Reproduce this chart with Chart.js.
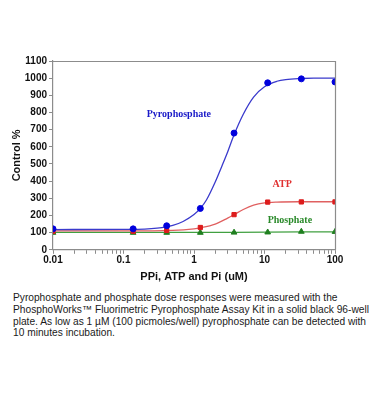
<!DOCTYPE html>
<html>
<head>
<meta charset="utf-8">
<script src="https://cdn.jsdelivr.net/npm/chart.js@4"></script>
<style>
  body { margin: 0; background: #fff; width: 370px; height: 419px; overflow: hidden; }
  #wrap { position: absolute; left: 0; top: 0; width: 370px; height: 290px; }
  #caption { position: absolute; left: 13px; top: 292px; width: 360px;
    font-family: "Liberation Sans", Arial, sans-serif; font-size: 10.2px; line-height: 11.8px; color: #1a1a1a; white-space: nowrap; }
</style>
</head>
<body>
<div id="wrap"><canvas id="c" width="370" height="290"></canvas></div>
<div id="caption">Pyrophosphate and phosphate dose responses were measured with the<br>PhosphoWorks™ Fluorimetric Pyrophosphate Assay Kit in a solid black 96-well<br>plate. As low as 1 µM (100 picmoles/well) pyrophosphate can be detected with<br>10 minutes incubation.</div>
<script>
// measured doses (uM)
var doses = [0.01, 0.137, 0.41, 1.23, 3.7, 11.1, 33.3, 100];
var ppiPoints = [122, 122, 140, 241, 680, 973, 996, 978];
var atpPoints = [108, 108, 113, 130, 205, 278, 279, 279];
var piPoints = [100, 100, 100, 100, 101, 102, 106, 105];

// fitted curves
var ppiFitX = [0.01, 0.1, 0.2, 0.3, 0.4, 0.5, 0.7, 1.0, 1.23, 1.5, 2.0, 2.5, 3.0, 3.7, 5, 7, 10, 15, 20, 33, 50, 100];
var ppiFitY = [118, 119, 121, 126, 133, 142, 165, 205, 241, 290, 395, 490, 570, 670, 790, 890, 950, 982, 992, 998, 1000, 1000];
var atpFitX = [0.01, 0.1, 0.5, 1, 1.23, 2, 3, 3.7, 5, 7, 10, 15, 30, 100];
var atpFitY = [110, 110, 113, 122, 128, 150, 185, 205, 235, 260, 273, 278, 280, 280];
var piFitX = [0.01, 1.23, 3.7, 11.1, 33.3, 100];
var piFitY = [101, 101, 102, 103, 105, 105];

var decades = [0.01, 0.1, 1, 10, 100];
var minorSteps = [2, 3, 4, 5, 6, 7, 8, 9];

var seriesLabels = [
    { text: "Pyrophosphate", x: 0.61, y: 790, color: "#1a1ac8" },
    { text: "ATP", x: 17.8, y: 380, color: "#e03030" },
    { text: "Phosphate", x: 22.9, y: 170, color: "#2a8a2a" }
];

function pairs(xs, ys) {
    var out = [];
    for (var i = 0; i < xs.length; i++) out.push({ x: xs[i], y: ys[i] });
    return out;
}

var frame = {
    id: "frame",
    afterDraw: function (chart) {
        var ctx = chart.ctx, a = chart.chartArea;
        ctx.save();
        ctx.strokeStyle = "#8c8c8c";
        ctx.lineWidth = 1.2;
        ctx.beginPath();
        ctx.moveTo(a.left, a.top + 0.5);
        ctx.lineTo(a.right + 0.5, a.top + 0.5);
        ctx.lineTo(a.right + 0.5, a.bottom);
        ctx.stroke();
        ctx.font = "bold 10px 'Liberation Serif', 'Times New Roman', serif";
        ctx.textAlign = "center";
        ctx.textBaseline = "middle";
        for (var i = 0; i < seriesLabels.length; i++) {
            var l = seriesLabels[i];
            ctx.fillStyle = l.color;
            ctx.fillText(l.text, chart.scales.x.getPixelForValue(l.x), chart.scales.y.getPixelForValue(l.y));
        }
        ctx.restore();
    }
};

var tickFont = { family: "'Liberation Sans', Arial, sans-serif", size: 10, weight: "bold" };

new Chart(document.getElementById("c"), {
    type: "line",
    data: {
        datasets: [
            { data: pairs(doses, ppiPoints), showLine: false, pointStyle: "circle", pointRadius: 3,
              backgroundColor: "#0000dd", borderColor: "#0000dd" },
            { data: pairs(doses, atpPoints), showLine: false, pointStyle: "rect", pointRadius: 3,
              backgroundColor: "#dd1c1c", borderColor: "#dd1c1c" },
            { data: pairs(doses, piPoints), showLine: false, pointStyle: "triangle", pointRadius: 3.3,
              backgroundColor: "#1f7f1f", borderColor: "#1f7f1f" },
            { data: pairs(ppiFitX, ppiFitY), pointRadius: 0, borderColor: "#3a3acc", borderWidth: 1.3,
              cubicInterpolationMode: "monotone" },
            { data: pairs(atpFitX, atpFitY), pointRadius: 0, borderColor: "#e06060", borderWidth: 1.3,
              cubicInterpolationMode: "monotone" },
            { data: pairs(piFitX, piFitY), pointRadius: 0, borderColor: "#40a040", borderWidth: 1.3 }
        ]
    },
    options: {
        responsive: false,
        animation: false,
        layout: { padding: { top: 61, right: 35, left: 10, bottom: 6 } },
        plugins: { legend: { display: false }, tooltip: { enabled: false } },
        scales: {
            x: {
                type: "logarithmic",
                min: 0.01,
                max: 100,
                afterBuildTicks: function (scale) {
                    var t = [];
                    for (var i = 0; i < decades.length; i++) {
                        t.push({ value: decades[i] });
                        if (i < decades.length - 1) {
                            for (var j = 0; j < minorSteps.length; j++) t.push({ value: decades[i] * minorSteps[j] });
                        }
                    }
                    scale.ticks = t;
                },
                ticks: {
                    autoSkip: false, maxRotation: 0, color: "#111", font: tickFont, padding: 0,
                    callback: function (v) { return decades.indexOf(v) >= 0 ? String(v) : ""; }
                },
                grid: { drawOnChartArea: false, tickLength: 4, color: "#8c8c8c" },
                border: { color: "#8c8c8c", width: 1.2 },
                title: { display: true, text: "PPi, ATP and Pi (uM)", color: "#111",
                    font: { family: "'Liberation Sans', Arial, sans-serif", size: 11, weight: "bold" }, padding: { top: 5, bottom: 0 } }
            },
            y: {
                min: 0,
                max: 1100,
                afterFit: function (scale) { scale.width = 43; },
                ticks: {
                    stepSize: 50, color: "#111", font: tickFont, padding: 2,
                    callback: function (v) { return v % 100 === 0 ? v : ""; }
                },
                grid: { drawOnChartArea: false, tickLength: 4, color: "#8c8c8c" },
                border: { color: "#8c8c8c", width: 1.2 },
                title: { display: true, text: "Control %", color: "#111",
                    font: { family: "'Liberation Sans', Arial, sans-serif", size: 11, weight: "bold" }, padding: 0 }
            }
        }
    },
    plugins: [frame]
});
</script>
</body>
</html>
